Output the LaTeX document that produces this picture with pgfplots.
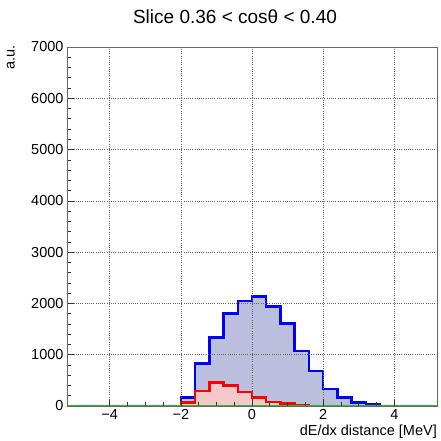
\documentclass[border=0pt]{standalone}
\usepackage{pgfplots}
\pgfplotsset{compat=1.18}
\usepackage{fontspec}
\setmainfont{Liberation Sans}
\definecolor{bfill}{RGB}{188,190,222}
\definecolor{rfill}{RGB}{242,200,200}
\definecolor{rootgreen}{RGB}{40,190,40}
\begin{document}
\begin{tikzpicture}
\useasboundingbox (-67pt,-35pt) rectangle (373pt,406pt);
\begin{axis}[
  at={(0pt,0pt)}, anchor=south west,
  scale only axis, width=370pt, height=359pt,
  xmin=-5.2, xmax=5.2, ymin=0, ymax=7000,
  xtick={-4,-2,0,2,4}, ytick={0,1000,...,7000},
  minor x tick num=3, minor y tick num=4,
  tick align=inside, tick pos=left,
  major tick length=7pt, minor tick length=4pt,
  grid=major, major grid style={black!60, dash pattern=on 0.6pt off 1.6pt, line width=0.6pt},
  axis line style={black!60, line width=0.7pt},
  tick style={black!80, line width=0.6pt},
  /pgf/number format/assume math mode=true,
  /pgf/number format/1000 sep={},
  ticklabel style={font=\fontsize{14.5}{16}\selectfont},
  xticklabels={\textminus4,\textminus2,0,2,4},
  axis on top,
  clip=false,
]
\addplot[const plot mark left, draw=blue, line width=2.4pt, fill=bfill] coordinates {
 (-2,0) (-2,164) (-1.6,830) (-1.2,1333) (-0.8,1801) (-0.4,2047) (0,2138)
 (0.4,1943) (0.8,1606) (1.2,1072) (1.6,682) (2.0,331) (2.4,164) (2.8,66)
 (3.2,33) (3.6,0)
} \closedcycle;
\addplot[const plot mark left, draw=red, line width=2.4pt, fill=rfill] coordinates {
 (-2,0) (-2,72) (-1.6,292) (-1.2,462) (-0.8,403) (-0.4,273) (0,164)
 (0.4,78) (0.8,47) (1.2,10) (1.6,0)
} \closedcycle;
\addplot[rootgreen, line width=2.4pt] coordinates {(-5.2,0) (5.2,0)};
\end{axis}
\node[anchor=north east, font=\fontsize{14.5}{16}\selectfont, inner sep=0pt] at (370pt,-19pt) {dE/dx distance [MeV]};
\node[anchor=south east, rotate=90, font=\fontsize{14.5}{16}\selectfont, inner sep=0pt] at (-52pt,361pt) {a.u.};
\node[anchor=base, font=\fontsize{19}{21}\selectfont, inner sep=0pt] at (168pt,382pt) {Slice 0.36 < cosθ < 0.40};
\end{tikzpicture}
\end{document}
